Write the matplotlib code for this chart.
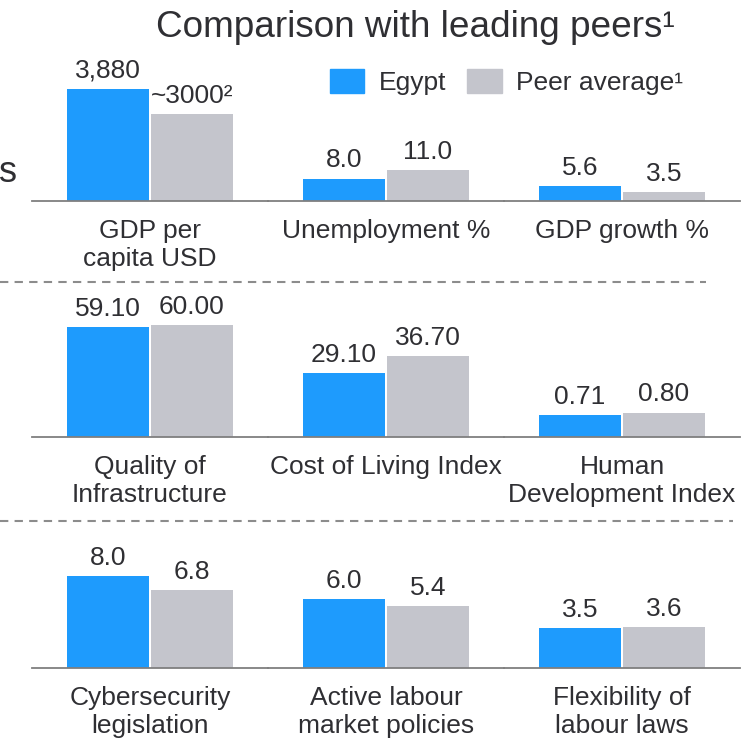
import matplotlib.pyplot as plt
from matplotlib.lines import Line2D
from matplotlib.patches import Patch

# Indicator data: Egypt vs. peer average, three rows of three metrics
row1_names = ["GDP per\ncapita USD", "Unemployment %", "GDP growth %"]
row1_egypt = [3880, 8.0, 5.6]
row1_peer = [3000, 11.0, 3.5]
row1_egypt_labels = ["3,880", "8.0", "5.6"]
row1_peer_labels = ["~3000²", "11.0", "3.5"]

row2_names = ["Quality of\nInfrastructure", "Cost of Living Index", "Human\nDevelopment Index"]
row2_egypt = [59.10, 29.10, 0.71]
row2_peer = [60.00, 36.70, 0.80]
row2_egypt_labels = ["59.10", "29.10", "0.71"]
row2_peer_labels = ["60.00", "36.70", "0.80"]

row3_names = ["Cybersecurity\nlegislation", "Active labour\nmarket policies", "Flexibility of\nlabour laws"]
row3_egypt = [8.0, 6.0, 3.5]
row3_peer = [6.8, 5.4, 3.6]
row3_egypt_labels = ["8.0", "6.0", "3.5"]
row3_peer_labels = ["6.8", "5.4", "3.6"]

BLUE = "#1e9bfd"
GREY = "#c4c5cc"
TEXT = "#2f2f33"
AXIS = "#7f7f7f"

plt.rcParams['font.family'] = ['Liberation Sans', 'DejaVu Sans']

W, H = 756, 745
fig = plt.figure(figsize=(W / 100, H / 100), dpi=100)

# each metric gets its own axis scale, so the y-limits differ per panel
rows = [
    (201, row1_names, row1_egypt, row1_peer, row1_egypt_labels, row1_peer_labels, [4845, 50, 54]),
    (437, row2_names, row2_egypt, row2_peer, row2_egypt_labels, row2_peer_labels, [75.3, 63.6, 4.59]),
    (668, row3_names, row3_egypt, row3_peer, row3_egypt_labels, row3_peer_labels, [12.2, 12.2, 12.2]),
]
col_left = [32, 268, 504]
col_w = 236
panel_h = 140

for base, names, egy, peer, elab, plab, ymaxs in rows:
    for j in range(3):
        ax = fig.add_axes([col_left[j] / W, 1 - base / H, col_w / W, panel_h / H])
        ax.set_xlim(-1.405, 1.405)
        ax.set_ylim(0, ymaxs[j])
        ax.bar(-0.5, egy[j], width=0.965, color=BLUE)
        ax.bar(0.5, peer[j], width=0.965, color=GREY)
        ax.annotate(elab[j], (-0.5, egy[j]), xytext=(0, 8), textcoords='offset points',
                    ha='center', va='baseline', fontsize=19, color=TEXT)
        ax.annotate(plab[j], (0.5, peer[j]), xytext=(0, 8), textcoords='offset points',
                    ha='center', va='baseline', fontsize=19, color=TEXT)
        ax.annotate(names[j], (0.5, 0), xycoords='axes fraction', xytext=(0, -13),
                    textcoords='offset points', ha='center', va='top',
                    fontsize=19, color=TEXT, linespacing=1.2)
        for s in ['top', 'left', 'right']:
            ax.spines[s].set_visible(False)
        ax.spines['bottom'].set_color(AXIS)
        ax.spines['bottom'].set_linewidth(1.3)
        ax.set_xticks([])
        ax.set_yticks([])
        ax.patch.set_alpha(0)

# dashed separators between rows
for y, x1 in [(282.5, 706), (521, 733)]:
    fig.add_artist(Line2D([0, x1 / W], [1 - y / H, 1 - y / H], color="#8c8c8c",
                          lw=1.5, linestyle=(0, (4, 3))))

fig.text(415 / W, 1 - 37 / H, "Comparison with leading peers¹", ha='center', va='baseline',
         fontsize=26.6, color=TEXT)
fig.text(17 / W, 1 - 182 / H, "s", ha='right', va='baseline', fontsize=26, color=TEXT)

handles = [Patch(color=BLUE, label="Egypt"), Patch(color=GREY, label="Peer average¹")]
fig.legend(handles=handles, ncol=2, frameon=False, loc='center left',
           bbox_to_anchor=(330 / W, 1 - 82 / H), borderaxespad=0, borderpad=0,
           fontsize=19, handlelength=1.3, handleheight=1.0, handletextpad=0.55,
           columnspacing=0.8, labelcolor=TEXT)

fig.savefig("out.png", dpi=100)
